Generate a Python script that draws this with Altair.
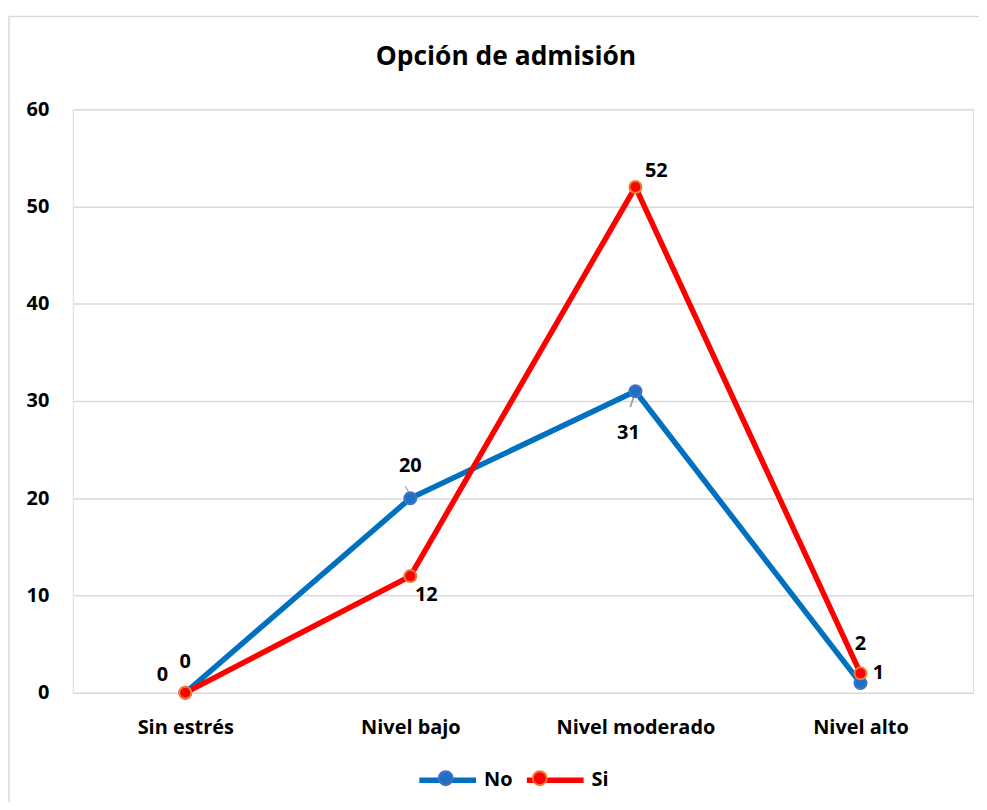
import altair as alt
import pandas as pd

categories = ["Sin estrés", "Nivel bajo", "Nivel moderado", "Nivel alto"]
series = ["No", "Si"]
no_values = [0, 20, 31, 1]
si_values = [0, 12, 52, 2]
y_ticks = [0, 10, 20, 30, 40, 50, 60]

rows = []
for c, v in zip(categories, no_values):
    rows.append({"cat": c, "serie": "No", "valor": v})
for c, v in zip(categories, si_values):
    rows.append({"cat": c, "serie": "Si", "valor": v})
df = pd.DataFrame(rows)
df["linea"] = df["serie"]

FONT = "Open Sans"
line_colors = ["#0070C0", "#FF0000"]
marker_fill = ["#1F6FC5", "#FF0000"]
marker_stroke = ["#4472C4", "#ED7D31"]

# label offsets (style): (serie, category) -> (dx, dy)
label_offsets = {
    ("No", "Sin estrés"): (0, -31),
    ("Si", "Sin estrés"): (-23, -18),
    ("No", "Nivel bajo"): (0, -32),
    ("Si", "Nivel bajo"): (16, 19),
    ("No", "Nivel moderado"): (-7, 42),
    ("Si", "Nivel moderado"): (21, -16),
    ("No", "Nivel alto"): (18, -10),
    ("Si", "Nivel alto"): (0, -29),
}
# leader-line glyph styles: (serie, category) -> (angle, dx, dy, fontSize)
leader_styles = {
    ("No", "Nivel bajo"): (331, 1.5, -8.9, 9.5),
    ("No", "Nivel moderado"): (18, 0, 9.5, 14.5),
}

x_enc = alt.X(
    "cat:N",
    sort=categories,
    scale=alt.Scale(type="point", padding=0.5),
    axis=alt.Axis(
        title=None, labelAngle=0, grid=False, domain=False, ticks=False,
        labelFontSize=20, labelFontWeight="bold", labelFont=FONT,
        labelColor="#000000", labelPadding=25,
    ),
)
y_enc = alt.Y(
    "valor:Q",
    scale=alt.Scale(domain=[0, 60], nice=False),
    axis=alt.Axis(
        title=None, values=y_ticks, grid=True, gridColor="#D9D9D9", gridWidth=1.5,
        domain=False, ticks=False, labelFontSize=20, labelFontWeight="bold",
        labelFont=FONT, labelColor="#000000", labelPadding=24,
    ),
)

LEG_X, LEG_Y = 345, 642
SYM_SIZE = 3249
leg_common = dict(
    title=None, orient="none", direction="horizontal",
    legendX=LEG_X, legendY=LEG_Y, symbolSize=SYM_SIZE,
    labelFontSize=20, labelFontWeight="bold", labelFont=FONT,
    labelColor="#000000", labelOffset=5,
)

base = alt.Chart(df)

border = alt.Chart(alt.Data(values=[{}])).mark_rect(
    fill=None, stroke="#D9D9D9", strokeWidth=1.5
).encode(
    x=alt.value(-64), x2=alt.value(912), y=alt.value(-93), y2=alt.value(698)
)

lines = base.mark_line(strokeWidth=5.5).encode(
    x=x_enc,
    y=y_enc,
    color=alt.Color(
        "linea:N",
        scale=alt.Scale(range=line_colors),
        legend=alt.Legend(symbolType="M-1,0L1,0", symbolStrokeWidth=5.5, zindex=0,
                          columnPadding=3, **leg_common),
    ),
)

circle_path = "M0.245,0A0.245,0.245,0,1,1,-0.245,0A0.245,0.245,0,1,1,0.245,0Z"
circle_leg = dict(symbolType=circle_path, symbolStrokeWidth=2, zindex=1,
                  labelExpr="''", columnPadding=30.5, **leg_common)
points = base.mark_point(filled=True, size=145, strokeWidth=2, opacity=1).encode(
    x=x_enc,
    y=y_enc,
    fill=alt.Fill("serie:N", scale=alt.Scale(domain=series, range=marker_fill),
                  legend=alt.Legend(**circle_leg)),
    stroke=alt.Stroke("serie:N", scale=alt.Scale(domain=series, range=marker_stroke),
                      legend=alt.Legend(**circle_leg)),
)

leaders = []
for (s, c), (ang, dx, dy, fs) in leader_styles.items():
    leaders.append(
        base.transform_filter(
            (alt.datum.serie == s) & (alt.datum.cat == c)
        ).mark_text(
            text="|", angle=ang, dx=dx, dy=dy, fontSize=fs, font=FONT,
            color="#999999", align="center", baseline="middle", fontWeight="bold",
        ).encode(x=x_enc, y=y_enc)
    )

labels = []
for (s, c), (dx, dy) in label_offsets.items():
    labels.append(
        base.transform_filter(
            (alt.datum.serie == s) & (alt.datum.cat == c)
        ).mark_text(
            dx=dx, dy=dy, fontSize=20, fontWeight="bold", font=FONT,
            color="#000000", align="center", baseline="middle",
        ).encode(x=x_enc, y=y_enc, text="valor:Q")
    )

chart = alt.layer(border, *leaders, lines, points, *labels).properties(
    width=904,
    height=586,
    autosize=alt.AutoSizeParams(type="none"),
    padding={"left": 65, "top": 100, "right": 6, "bottom": 108},
    title=alt.TitleParams(
        "Opción de admisión", fontSize=26.5, fontWeight="bold", font=FONT,
        color="#000000", offset=0, dy=55, dx=-17, anchor="middle",
    ),
).configure_view(stroke=None).configure(background="#FFFFFF")

chart.save("out.html", embed_options={"renderer": "svg", "actions": False})
